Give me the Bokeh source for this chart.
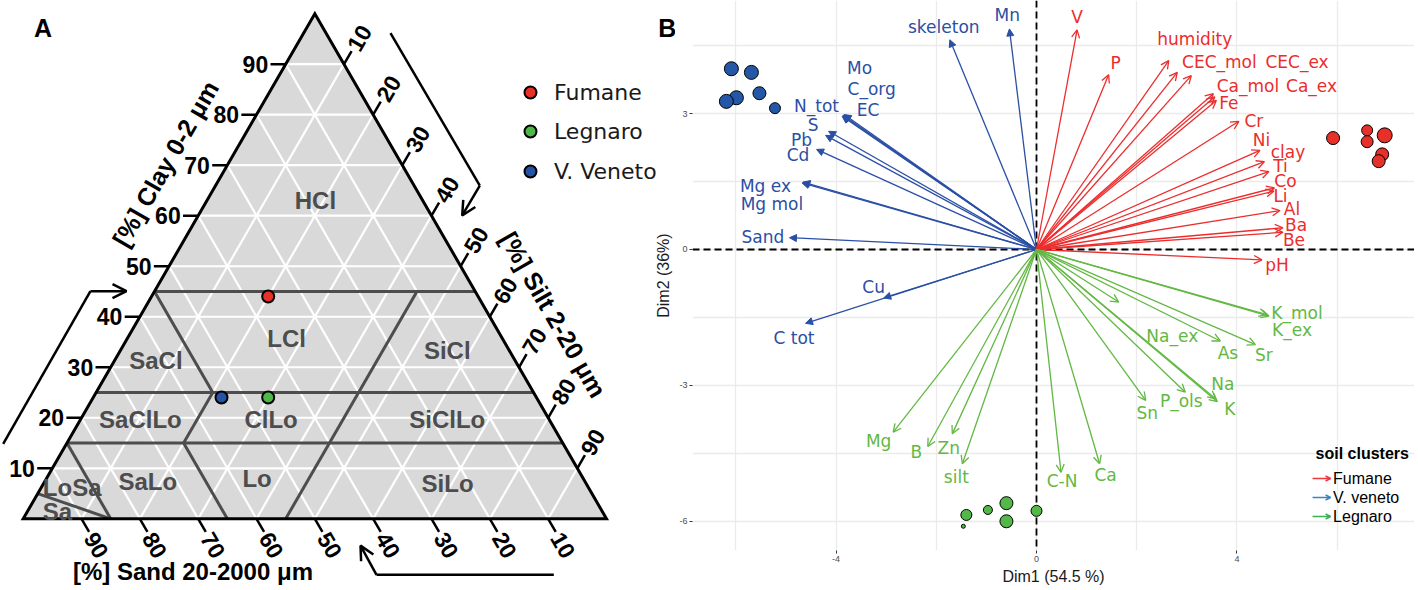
import numpy as np
from bokeh.plotting import figure
from bokeh.models import (ColumnDataSource, Range1d, Arrow, OpenHead, NormalHead,
                          Span, FixedTicker)
from bokeh.layouts import row
from bokeh.embed import file_html
from bokeh.resources import INLINE
from bokeh.core.properties import value

# ================= Panel A data: soil texture triangle =================
tern_ticks = [10, 20, 30, 40, 50, 60, 70, 80, 90]
site_names = ["Fumane", "Legnaro", "V. Veneto"]
site_clay = [44, 24, 24]
site_silt = [20, 30, 22]
site_sand = [36, 46, 54]
site_colors = ["#e8302b", "#4cb848", "#2553a6"]

class_names = ["HCl", "LCl", "SiCl", "SaCl", "SaClLo", "ClLo", "SiClLo",
               "SaLo", "Lo", "SiLo", "LoSa", "Sa"]
class_clay = [63.0, 35.7, 33.4, 31.3, 19.6, 19.6, 19.6, 7.3, 8.0, 6.9, 6.2, 1.5]
class_silt = [18.6, 27.3, 56.0, 7.1, 10.3, 32.7, 62.9, 17.7, 36.1, 69.3, 5.3, 5.1]
# class boundaries as (clay, silt) vertices
class_bounds = [
    [(45, 0), (45, 55)],
    [(25, 0), (25, 75)],
    [(15, 0), (15, 85)],
    [(45, 0), (25, 20), (15, 20), (0, 35)],
    [(45, 45), (0, 45)],
    [(15, 0), (0, 15)],
    [(5, 0), (0, 15)],
]

# ================= Panel B data: PCA biplot =================
x_ticks = [-4, 0, 4]
y_ticks = [-6, -3, 0, 3]
x_grid = [-6, -4, -2, 0, 2, 4, 6]
y_grid = [-6, -4.5, -3, -1.5, 0, 1.5, 3, 4.5]

vv_vars = ["skeleton", "Mn", "Mo", "C_org", "EC", "N_tot", "S", "Pb", "Cd",
           "Mg ex", "Mg mol", "Sand", "Cu", "C tot"]
vv_x = [-1.73, -0.54, -3.84, -3.86, -3.88, -3.86, -4.15, -4.21, -4.39,
        -4.66, -4.68, -4.93, -3.05, -4.61]
vv_y = [4.63, 4.87, 2.98, 2.96, 2.94, 2.96, 2.61, 2.52, 2.21,
        1.49, 1.47, 0.26, -1.07, -1.63]
vv_lx = [-1.85, -0.585, -3.53, -3.29, -3.36, -4.39, -4.46, -4.69, -4.76,
         -5.41, -5.28, -5.46, -3.25, -4.84]
vv_ly = [4.91, 5.17, 4.00, 3.55, 3.07, 3.16, 2.74, 2.41, 2.08,
         1.40, 1.01, 0.27, -0.83, -1.95]

fu_vars = ["V", "P", "humidity", "CEC_mol", "CEC_ex", "Ca_mol", "Ca_ex", "Fe",
           "Cr", "Ni", "clay", "Ti", "Co", "Li", "Al", "Ba", "Be", "pH"]
fu_x = [0.81, 1.44, 2.64, 2.81, 3.09, 3.53, 3.56, 3.59, 4.04, 4.46, 4.55,
        4.64, 4.75, 4.74, 4.86, 4.92, 4.92, 4.50]
fu_y = [4.85, 3.86, 4.17, 3.91, 3.84, 3.44, 3.37, 3.29, 2.83, 2.19, 1.94,
        1.72, 1.36, 1.29, 0.86, 0.48, 0.38, -0.23]
fu_lx = [0.81, 1.58, 3.16, 3.65, 5.20, 4.22, 5.49, 3.84, 4.34, 4.49, 5.02,
         4.87, 4.97, 4.87, 5.10, 5.18, 5.14, 4.80]
fu_ly = [5.13, 4.11, 4.65, 4.13, 4.13, 3.62, 3.62, 3.23, 2.83, 2.42, 2.15,
         1.85, 1.52, 1.18, 0.90, 0.55, 0.22, -0.35]

le_vars = ["Mg", "B", "Zn", "silt", "C-N", "Ca", "Sn", "P_ols", "Na", "K",
           "Na_ex", "As", "Sr", "K_mol", "K_ex"]
le_x = [-2.86, -2.17, -1.68, -1.48, 0.49, 1.26, 2.18, 2.97, 3.58, 3.61,
        1.64, 3.67, 4.37, 4.64, 4.60]
le_y = [-4.03, -4.35, -4.07, -4.73, -4.92, -4.73, -3.33, -3.15, -3.30, -3.36,
        -1.16, -2.02, -2.10, -1.47, -1.44]
le_lx = [-3.15, -2.40, -1.75, -1.60, 0.51, 1.38, 2.21, 2.89, 3.72, 3.86,
         2.71, 3.82, 4.54, 5.20, 5.10]
le_ly = [-4.22, -4.47, -4.39, -5.03, -5.12, -4.97, -3.61, -3.35, -2.97, -3.52,
         -1.90, -2.28, -2.34, -1.40, -1.77]

fu_px = [5.92, 6.60, 6.60, 6.95, 6.90, 6.83]
fu_py = [2.46, 2.63, 2.38, 2.52, 2.10, 1.95]
fu_ps = [13, 11, 12, 15, 13, 13]
vv_px = [-6.09, -5.69, -5.99, -6.19, -5.53, -5.22]
vv_py = [3.99, 3.91, 3.35, 3.27, 3.45, 3.12]
vv_ps = [14, 14, 14, 14, 13, 11]
le_px = [-1.40, -0.97, -0.60, -0.60, 0.00, -1.46]
le_py = [-5.86, -5.75, -5.60, -6.00, -5.77, -6.11]
le_ps = [11, 9, 13, 13, 11, 4]

legend_names = ["Fumane", "V. veneto", "Legnaro"]
legend_key_colors = ["#f0373d", "#3a83c6", "#3cae5a"]

RED, BLUE, GREEN = "#ec2d2d", "#2a4fa5", "#62b843"

# ================= Panel A =================
H = np.sqrt(3) / 2


def tx(clay, silt):
    return silt + clay * 0.5


def ty(clay):
    return clay * H


pa = figure(frame_width=675, frame_height=586, x_range=Range1d(-3.892, 111.83),
            y_range=Range1d(-11.606, 88.857), output_backend="svg",
            toolbar_location=None, min_border=0,
            x_axis_location=None, y_axis_location=None)
pa.grid.visible = False
pa.outline_line_color = None

corners = [(0, 0), (0, 100), (100, 0)]
cx = [tx(c, s) for c, s in corners]
cy = [ty(c) for c, s in corners]
pa.patch(cx, cy, fill_color="#d9d9d9", line_color=None)

gx, gy = [], []
for t in tern_ticks:
    gx.append([tx(t, 0), tx(t, 100 - t)]); gy.append([ty(t), ty(t)])
    gx.append([tx(0, t), tx(100 - t, t)]); gy.append([0, ty(100 - t)])
    gx.append([tx(0, 100 - t), tx(100 - t, 0)]); gy.append([0, ty(100 - t)])
pa.multi_line(gx, gy, line_color="white", line_width=2.2)

bx = [[tx(c, s) for c, s in b] for b in class_bounds]
by = [[ty(c) for c, s in b] for b in class_bounds]
pa.multi_line(bx, by, line_color="#4d4d4d", line_width=3, line_join="miter")

pa.patch(cx, cy, fill_alpha=0, line_color="black", line_width=3, line_join="miter")

L = 2.6
tick_x0, tick_y0, tick_x1, tick_y1 = [], [], [], []
lab_clay = dict(x=[], y=[], t=[])
lab_silt = dict(x=[], y=[], t=[])
lab_sand = dict(x=[], y=[], t=[])
for t in tern_ticks:
    # clay axis (left edge)
    x, y = tx(t, 0), ty(t)
    tick_x0.append(x); tick_y0.append(y); tick_x1.append(x - L); tick_y1.append(y)
    lab_clay["x"].append(x - L - 0.4); lab_clay["y"].append(y); lab_clay["t"].append(str(t))
    # silt axis (right edge)
    x, y = tx(100 - t, t), ty(100 - t)
    tick_x0.append(x); tick_y0.append(y)
    tick_x1.append(x + 0.5 * L); tick_y1.append(y + H * L)
    lab_silt["x"].append(x + 0.5 * (L + 0.4)); lab_silt["y"].append(y + H * (L + 0.4))
    lab_silt["t"].append(str(t))
    # sand axis (base)
    x, y = tx(0, 100 - t), 0.0
    tick_x0.append(x); tick_y0.append(y)
    tick_x1.append(x + 0.5 * L); tick_y1.append(y - H * L)
    lab_sand["x"].append(x + 0.5 * (L + 0.4)); lab_sand["y"].append(y - H * (L + 0.4))
    lab_sand["t"].append(str(t))
pa.segment(tick_x0, tick_y0, tick_x1, tick_y1, line_color="black", line_width=2.5)

tick_font = dict(text_font=value("Liberation Sans"), text_font_style="bold",
                 text_font_size="23px", text_color="black", text_baseline="middle")
pa.text(x=lab_clay["x"], y=lab_clay["y"], text=lab_clay["t"], text_align="right", **tick_font)
pa.text(x=lab_silt["x"], y=lab_silt["y"], text=lab_silt["t"], text_align="left",
        angle=np.pi / 3, **tick_font)
pa.text(x=lab_sand["x"], y=lab_sand["y"], text=lab_sand["t"], text_align="left",
        angle=-np.pi / 3, **tick_font)

title_font = dict(text_font=value("Liberation Sans"), text_font_style="bold",
                  text_font_size="25px", text_color="black", text_align="center",
                  text_baseline="middle")
pa.text(x=[24.4], y=[60.9], text=["[%] Clay 0-2 \u03bcm"], angle=np.pi / 3, **title_font)
pa.text(x=[90.9], y=[35.0], text=["[%] Silt 2-20 \u03bcm"], angle=-np.pi / 3, **title_font)
pa.text(x=[29.1], y=[-8.95], text=["[%] Sand 20-2000 \u03bcm"],
        text_font=value("Liberation Sans"), text_font_style="bold",
        text_font_size="24px", text_color="black", text_align="center",
        text_baseline="middle")

pa.text(x=[tx(c, s) for c, s in zip(class_clay, class_silt)], y=[ty(c) for c in class_clay],
        text=class_names, text_font=value("Liberation Sans"), text_font_style="bold",
        text_font_size="24px", text_color="#4d4d4d", text_align="center",
        text_baseline="middle")

# direction arrows
pa.line([-3.43, 11.53], [12.86, 39.02], line_color="black", line_width=2.5)
pa.line([62.97, 78.28], [83.25, 57.13], line_color="black", line_width=2.5)
pa.line([90.97, 60.57], [-9.6, -9.6], line_color="black", line_width=2.5)
for (xs, ys, xe, ye) in [(11.53, 39.02, 17.71, 39.02), (78.28, 57.13, 75.26, 52.0),
                         (60.57, -9.6, 57.83, -4.6)]:
    pa.add_layout(Arrow(end=OpenHead(size=14, line_width=2.5, line_color="black"),
                        x_start=xs, y_start=ys, x_end=xe, y_end=ye,
                        line_color="black", line_width=2.5))

pa.scatter([tx(c, s) for c, s in zip(site_clay, site_silt)], [ty(c) for c in site_clay],
           size=12, fill_color=site_colors, line_color="black", line_width=2)

leg_y = [73.09, 66.4, 59.54]
pa.scatter([86.97] * 3, leg_y, size=12, fill_color=site_colors, line_color="black", line_width=2)
pa.text(x=[91.0] * 3, y=leg_y, text=site_names, text_font=value("DejaVu Sans"),
        text_font_size="22px", text_color="#1a1a1a", text_align="left", text_baseline="middle")

pa.text(x=[3.38], y=[84.14], text=["A"], text_font=value("Liberation Sans"),
        text_font_style="bold", text_font_size="25px", text_color="black",
        text_align="center", text_baseline="middle")
# panel B tag and its vertical axis title sit in the gap left of panel B
pa.text(x=[110.4], y=[84.14], text=["B"], text_font=value("Liberation Sans"),
        text_font_style="bold", text_font_size="25px", text_color="black",
        text_align="center", text_baseline="middle")
pa.text(x=[109.8], y=[41.7], text=["Dim2 (36%)"], angle=np.pi / 2,
        text_font=value("Liberation Sans"), text_font_size="16px", text_color="#1a1a1a",
        text_align="center", text_baseline="middle")

# ================= Panel B =================
pb = figure(frame_width=722, frame_height=550, x_range=Range1d(-6.866, 7.545),
            y_range=Range1d(-6.645, 5.497), output_backend="svg", toolbar_location=None,
            min_border_left=17, min_border_right=0, min_border_top=0, min_border_bottom=36)
pb.outline_line_color = None
pb.xgrid.ticker = FixedTicker(ticks=x_grid)
pb.ygrid.ticker = FixedTicker(ticks=y_grid)
pb.grid.grid_line_color = "#ebebeb"
pb.grid.grid_line_width = 1.3
pb.xaxis.ticker = FixedTicker(ticks=x_ticks)
pb.yaxis.ticker = FixedTicker(ticks=y_ticks)
pb.xaxis.major_label_overrides = {t: str(t) for t in x_ticks}
pb.yaxis.major_label_overrides = {t: str(t) for t in y_ticks}
pb.xaxis.axis_label = "Dim1 (54.5 %)"
for ax in pb.axis:
    ax.axis_line_color = None
    ax.major_tick_line_color = "#333333"
    ax.major_tick_out = 3
    ax.major_tick_in = 0
    ax.minor_tick_line_color = None
    ax.major_label_text_font = "Liberation Sans"
    ax.major_label_text_font_size = "9px"
    ax.major_label_text_color = "#4d4d4d"
    ax.major_label_standoff = 2
    ax.axis_label_text_font = "Liberation Sans"
    ax.axis_label_text_font_size = "16px"
    ax.axis_label_text_font_style = "normal"
    ax.axis_label_text_color = "#1a1a1a"
    ax.axis_label_standoff = 3

pb.add_layout(Span(location=0, dimension="height", line_color="black", line_dash="7 4",
                   line_width=1.8, level="underlay"))
pb.add_layout(Span(location=0, dimension="width", line_color="black", line_dash="7 4",
                   line_width=1.8, level="underlay"))

groups = [(vv_x, vv_y, vv_lx, vv_ly, vv_vars, BLUE, "normal"),
          (fu_x, fu_y, fu_lx, fu_ly, fu_vars, RED, "open"),
          (le_x, le_y, le_lx, le_ly, le_vars, GREEN, "open")]
for gxs, gys, lxs, lys, names, col, head in groups:
    src = ColumnDataSource(dict(x0=[0.0] * len(gxs), y0=[0.0] * len(gxs), x1=gxs, y1=gys))
    if head == "normal":
        hd = NormalHead(size=7, fill_color=col, line_color=col, line_width=1)
    else:
        hd = OpenHead(size=8, line_color=col, line_width=1.3)
    pb.add_layout(Arrow(end=hd, x_start="x0", y_start="y0", x_end="x1", y_end="y1",
                        source=src, line_color=col, line_width=1.3))
    pb.text(x=lxs, y=lys, text=names, text_font=value("DejaVu Sans"),
            text_font_size="17px", text_color=col, text_align="center",
            text_baseline="middle")

for xs, ys, ss, col in [(fu_px, fu_py, fu_ps, "#e8302b"), (vv_px, vv_py, vv_ps, "#2457a8"),
                        (le_px, le_py, le_ps, "#53b847")]:
    pb.scatter(xs, ys, size=ss, fill_color=col, line_color="black", line_width=1)

# legend
leg_by = [-5.055, -5.475, -5.894]
for yy, col in zip(leg_by, legend_key_colors):
    pb.add_layout(Arrow(end=OpenHead(size=5, line_color=col, line_width=1.5),
                        x_start=5.51, y_start=yy, x_end=5.87, y_end=yy,
                        line_color=col, line_width=1.5))
pb.text(x=[5.92] * 3, y=leg_by, text=legend_names, text_font=value("Liberation Sans"),
        text_font_size="16px", text_color="black", text_align="left", text_baseline="middle")
pb.text(x=[5.57], y=[-4.50], text=["soil clusters"], text_font=value("Liberation Sans"),
        text_font_style="bold", text_font_size="16px", text_color="black",
        text_align="left", text_baseline="middle")

layout = row(pa, pb)
open("out.html", "w").write(file_html(layout, INLINE))
